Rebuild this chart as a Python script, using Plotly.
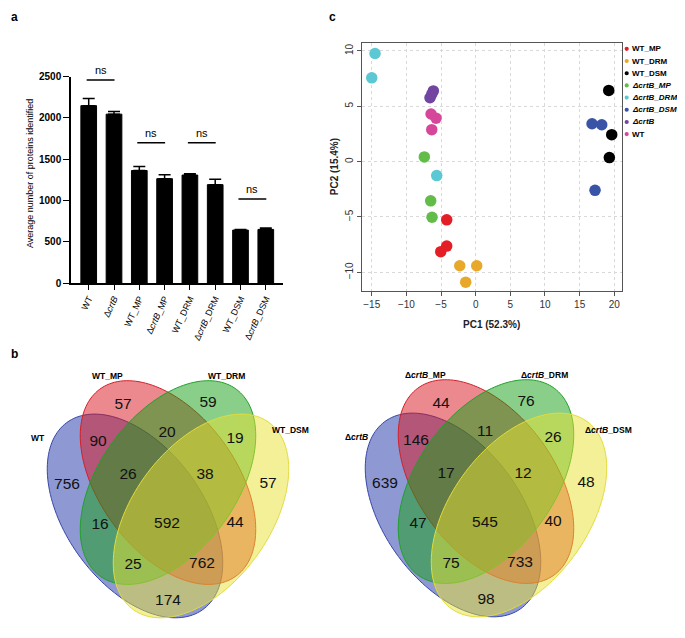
import numpy as np
import plotly.graph_objects as go

# The page body adds an 8px margin on every side; positions below are in window pixels.
OX, OY = 8, 8
WIN_W, WIN_H = 685, 638
FIG_W, FIG_H = WIN_W - 2 * OX, WIN_H - 2 * OY
FONT = "Arial, Liberation Sans, sans-serif"

# ---------------- Panel a data ----------------
bar_ticks = ["WT", "Δ<i>crtB</i>", "WT_MP", "Δ<i>crtB</i>_MP", "WT_DRM",
             "Δ<i>crtB</i>_DRM", "WT_DSM", "Δ<i>crtB</i>_DSM"]
bar_mean = [2148, 2045, 1363, 1264, 1308, 1192, 642, 650]
bar_err = [87, 32, 48, 47, 15, 64, 8, 16]
ns_pairs = [(0, 1), (2, 3), (4, 5), (6, 7)]
ns_level = [2457, 1700, 1700, 1019]

# ---------------- Panel c data ----------------
pca_groups = ["WT_MP", "WT_DRM", "WT_DSM", "ΔcrtB_MP", "ΔcrtB_DRM", "ΔcrtB_DSM", "ΔcrtB", "WT"]
pca_labels = ["WT_MP", "WT_DRM", "WT_DSM", "<i>ΔcrtB_MP</i>", "<i>ΔcrtB_DRM</i>",
              "<i>ΔcrtB_DSM</i>", "<i>ΔcrtB</i>", "WT"]
pca_colors = ["#E41E26", "#E8A92B", "#000000", "#62BD48", "#5CC8D4", "#3954A6", "#7145A0", "#D6479B"]
pc1 = {
    "WT_MP": [-4.18, -4.18, -5.04],
    "WT_DRM": [-2.30, 0.15, -1.44],
    "WT_DSM": [19.2, 19.63, 19.29],
    "ΔcrtB_MP": [-7.41, -6.49, -6.30],
    "ΔcrtB_DRM": [-14.52, -15.0, -5.62],
    "ΔcrtB_DSM": [16.79, 18.19, 17.22],
    "ΔcrtB": [-6.59, -6.11, -6.34],
    "WT": [-6.44, -5.72, -6.34],
}
pc2 = {
    "WT_MP": [-5.26, -7.63, -8.13],
    "WT_DRM": [-9.4, -9.4, -10.89],
    "WT_DSM": [6.44, 2.44, 0.37],
    "ΔcrtB_MP": [0.43, -3.54, -5.02],
    "ΔcrtB_DRM": [9.77, 7.57, -1.26],
    "ΔcrtB_DSM": [3.42, 3.33, -2.59],
    "ΔcrtB": [5.77, 6.39, 6.09],
    "WT": [4.31, 3.93, 2.89],
}

# ---------------- Panel b data ----------------
venn_left_sets = ["WT", "WT_MP", "WT_DRM", "WT_DSM"]
venn_right_sets = ["Δ<i>crtB</i>", "Δ<i>crtB</i>_MP", "Δ<i>crtB</i>_DRM", "Δ<i>crtB</i>_DSM"]
# region order: MP, DRM, WT&MP, MP&DRM, DRM&DSM, WT, WT&MP&DRM, MP&DRM&DSM, DSM,
#               WT&DRM, all, MP&DSM, WT&DRM&DSM, WT&MP&DSM, WT&DSM
venn_left_counts = [57, 59, 90, 20, 19, 756, 26, 38, 57, 16, 592, 44, 25, 762, 174]
venn_right_counts = [44, 76, 146, 11, 26, 639, 17, 12, 48, 47, 545, 40, 75, 733, 98]

# ---------------- layout helpers (window pixel geometry) ----------------
def px_x(p):
    return (p - OX) / FIG_W

def px_y(p):
    return 1 - (p - OY) / FIG_H

region_pos = [(123, 407), (208, 405), (98, 445), (167, 436), (235, 442), (67, 489),
              (128, 478), (205, 478), (268, 488), (100, 529), (167, 528), (235, 527),
              (133, 570), (202, 569), (168, 607)]
set_label_pos = [(38, 441), (107, 378), (226, 378), (290, 433)]
venn_offsets = [(0, 0), (318, -1)]

ell_a, ell_b = 117, 69
ellipses = [  # (cx, cy, angle, fill, line) in WT, MP, DRM, DSM order
    (135, 520, 55, "rgba(30,50,165,0.5)", "#3646A8"),
    (168, 486, 55, "rgba(215,20,30,0.5)", "#D32028"),
    (168, 486, 125, "rgba(20,160,20,0.5)", "#22A02A"),
    (201, 520, 125, "rgba(232,226,50,0.5)", "#E2DC3C"),
]

def ellipse_path(cx, cy, a, b, ang):
    t = np.linspace(0, 2 * np.pi, 160)
    th = np.deg2rad(ang)
    xs = cx + a * np.cos(t) * np.cos(th) - b * np.sin(t) * np.sin(th)
    ys = cy + a * np.cos(t) * np.sin(th) + b * np.sin(t) * np.cos(th)
    pts = " L ".join(f"{x:.2f},{y:.2f}" for x, y in zip(xs, ys))
    return "M " + pts + " Z"

fig = go.Figure()

# Panel a bars
fig.add_trace(go.Bar(
    x=list(range(len(bar_mean))), y=bar_mean, width=0.62,
    marker=dict(color="black", line=dict(color="black", width=1)),
    error_y=dict(type="data", symmetric=False, array=bar_err,
                 arrayminus=[0] * len(bar_err), color="black", thickness=1.5, width=6),
    xaxis="x", yaxis="y", showlegend=False, hoverinfo="skip"))

# Panel c scatter
for g, c in zip(pca_groups, pca_colors):
    fig.add_trace(go.Scatter(
        x=pc1[g], y=pc2[g], mode="markers", name=g,
        marker=dict(color=c, size=11.5, line=dict(width=0)),
        xaxis="x2", yaxis="y2", showlegend=False))

# Panel b numbers as a text trace
vx, vy, vt = [], [], []
for counts, (ox, oy) in zip([venn_left_counts, venn_right_counts], venn_offsets):
    for n, (rx, ry) in zip(counts, region_pos):
        vx.append(rx + ox)
        vy.append(ry + oy)
        vt.append(str(n))
fig.add_trace(go.Scatter(
    x=vx, y=vy, text=vt, mode="text", textposition="middle center",
    textfont=dict(family=FONT, size=15.5, color="#111"),
    xaxis="x3", yaxis="y3", showlegend=False, hoverinfo="skip"))

shapes = []
annotations = []

def note(x, y, text, ref="paper", **kw):
    d = dict(x=x, y=y, xref=ref if ref == "paper" else ref[0],
             yref=ref if ref == "paper" else ref[1], text=text, showarrow=False,
             xanchor=kw.pop("xanchor", "center"), yanchor=kw.pop("yanchor", "middle"))
    d.update(kw)
    annotations.append(d)

# Venn ellipses
for (ox, oy) in venn_offsets:
    for cx, cy, ang, fill, line in ellipses:
        shapes.append(dict(type="path", xref="x3", yref="y3",
                           path=ellipse_path(cx + ox, cy + oy, ell_a, ell_b, ang),
                           fillcolor=fill, line=dict(color=line, width=1), layer="below"))

for names, (ox, oy) in zip([venn_left_sets, venn_right_sets], venn_offsets):
    for nm, (lx, ly) in zip(names, set_label_pos):
        note(lx + ox, ly + oy, f"<b>{nm}</b>", ref=("x3", "y3"),
             font=dict(family=FONT, size=8.5, color="black"))

# ns brackets
for (i, j), lvl in zip(ns_pairs, ns_level):
    shapes.append(dict(type="line", xref="x", yref="y", x0=i - 0.08, x1=j + 0.02,
                       y0=lvl, y1=lvl, line=dict(color="black", width=1.5)))
    note((i + j) / 2 - 0.03, lvl, "ns", ref=("x", "y"), yanchor="bottom", yshift=2,
         font=dict(family=FONT, size=11, color="black"))

# Panel a y title
note(px_x(30), px_y(172), "Average number of proteins identified", textangle=-90,
     font=dict(family=FONT, size=9, color="black"))

# Panel c axis titles
note(px_x(491), px_y(325), "<b>PC1 (52.3%)</b>", font=dict(family=FONT, size=10, color="#222"))
note(px_x(334), px_y(165), "<b>PC2 (15.4%)</b>", textangle=-90,
     font=dict(family=FONT, size=10, color="#222"))

# Panel c manual legend
leg_y0, leg_dy = 44.5, 12.4
for k, (lab, c) in enumerate(zip(pca_labels, pca_colors)):
    yy = leg_y0 + k * leg_dy
    shapes.append(dict(type="circle", xref="x3", yref="y3", x0=624.6, x1=628.8,
                       y0=yy - 2.1, y1=yy + 2.1, fillcolor=c, line=dict(width=0)))
    note(630, yy, f"<b>{lab}</b>", ref=("x3", "y3"), xanchor="left",
         font=dict(family=FONT, size=8, color="black"))

# Panel letters (the page margin keeps them from sitting closer to the edge)
for letter, (lx, ly) in zip(["a", "b", "c"], [(9, 12), (9, 355), (327, 12)]):
    note(px_x(lx), px_y(ly), f"<b>{letter}</b>", xanchor="left",
         font=dict(family=FONT, size=12, color="black"))

fig.update_layout(
    width=FIG_W, height=FIG_H, autosize=False,
    margin=dict(l=0, r=0, t=0, b=0),
    paper_bgcolor="white", plot_bgcolor="rgba(0,0,0,0)",
    font=dict(family=FONT, color="black"),
    showlegend=False,
    xaxis=dict(domain=[px_x(71), px_x(283)], range=[-0.7, 7.68], anchor="y",
               tickvals=list(range(len(bar_ticks))), ticktext=bar_ticks, tickangle=-65,
               tickfont=dict(family=FONT, size=9, color="black"),
               ticks="outside", ticklen=5, tickwidth=1.2, tickcolor="black",
               showline=True, linecolor="black", linewidth=1.5,
               showgrid=False, zeroline=False, fixedrange=True),
    yaxis=dict(domain=[px_y(283), px_y(72.7)], range=[0, 2500], anchor="x",
               tickvals=[0, 500, 1000, 1500, 2000, 2500],
               tickfont=dict(family=FONT, size=10, color="black", weight="bold"),
               ticks="outside", ticklen=6, tickwidth=1.2, tickcolor="black",
               showline=True, linecolor="black", linewidth=1.5,
               showgrid=False, zeroline=False, fixedrange=True),
    xaxis2=dict(domain=[px_x(362.3), px_x(621.7)], range=[-16.36, 21.07], anchor="y2",
                tickvals=[-15, -10, -5, 0, 5, 10, 15, 20],
                tickfont=dict(family=FONT, size=10, color="#333"),
                ticks="outside", ticklen=4, tickcolor="#555",
                showline=True, mirror=True, linecolor="#555", linewidth=1,
                showgrid=True, gridcolor="#d9d9d9", griddash="dot", gridwidth=1,
                zeroline=False, fixedrange=True),
    yaxis2=dict(domain=[px_y(290.7), px_y(39)], range=[-11.66, 10.68], anchor="x2",
                tickvals=[-10, -5, 0, 5, 10], tickangle=-90,
                tickfont=dict(family=FONT, size=10, color="#333"),
                ticks="outside", ticklen=4, tickcolor="#555",
                showline=True, mirror=True, linecolor="#555", linewidth=1,
                showgrid=True, gridcolor="#d9d9d9", griddash="dot", gridwidth=1,
                zeroline=False, fixedrange=True),
    xaxis3=dict(domain=[0, 1], range=[OX, OX + FIG_W], anchor="y3", visible=False, fixedrange=True),
    yaxis3=dict(domain=[0, 1], range=[OY + FIG_H, OY], anchor="x3", visible=False, fixedrange=True),
    shapes=shapes,
    annotations=annotations,
)

fig.write_html(
    "out.html",
    post_script="document.documentElement.style.overflow='hidden';"
                "document.body.style.overflow='hidden';",
)
